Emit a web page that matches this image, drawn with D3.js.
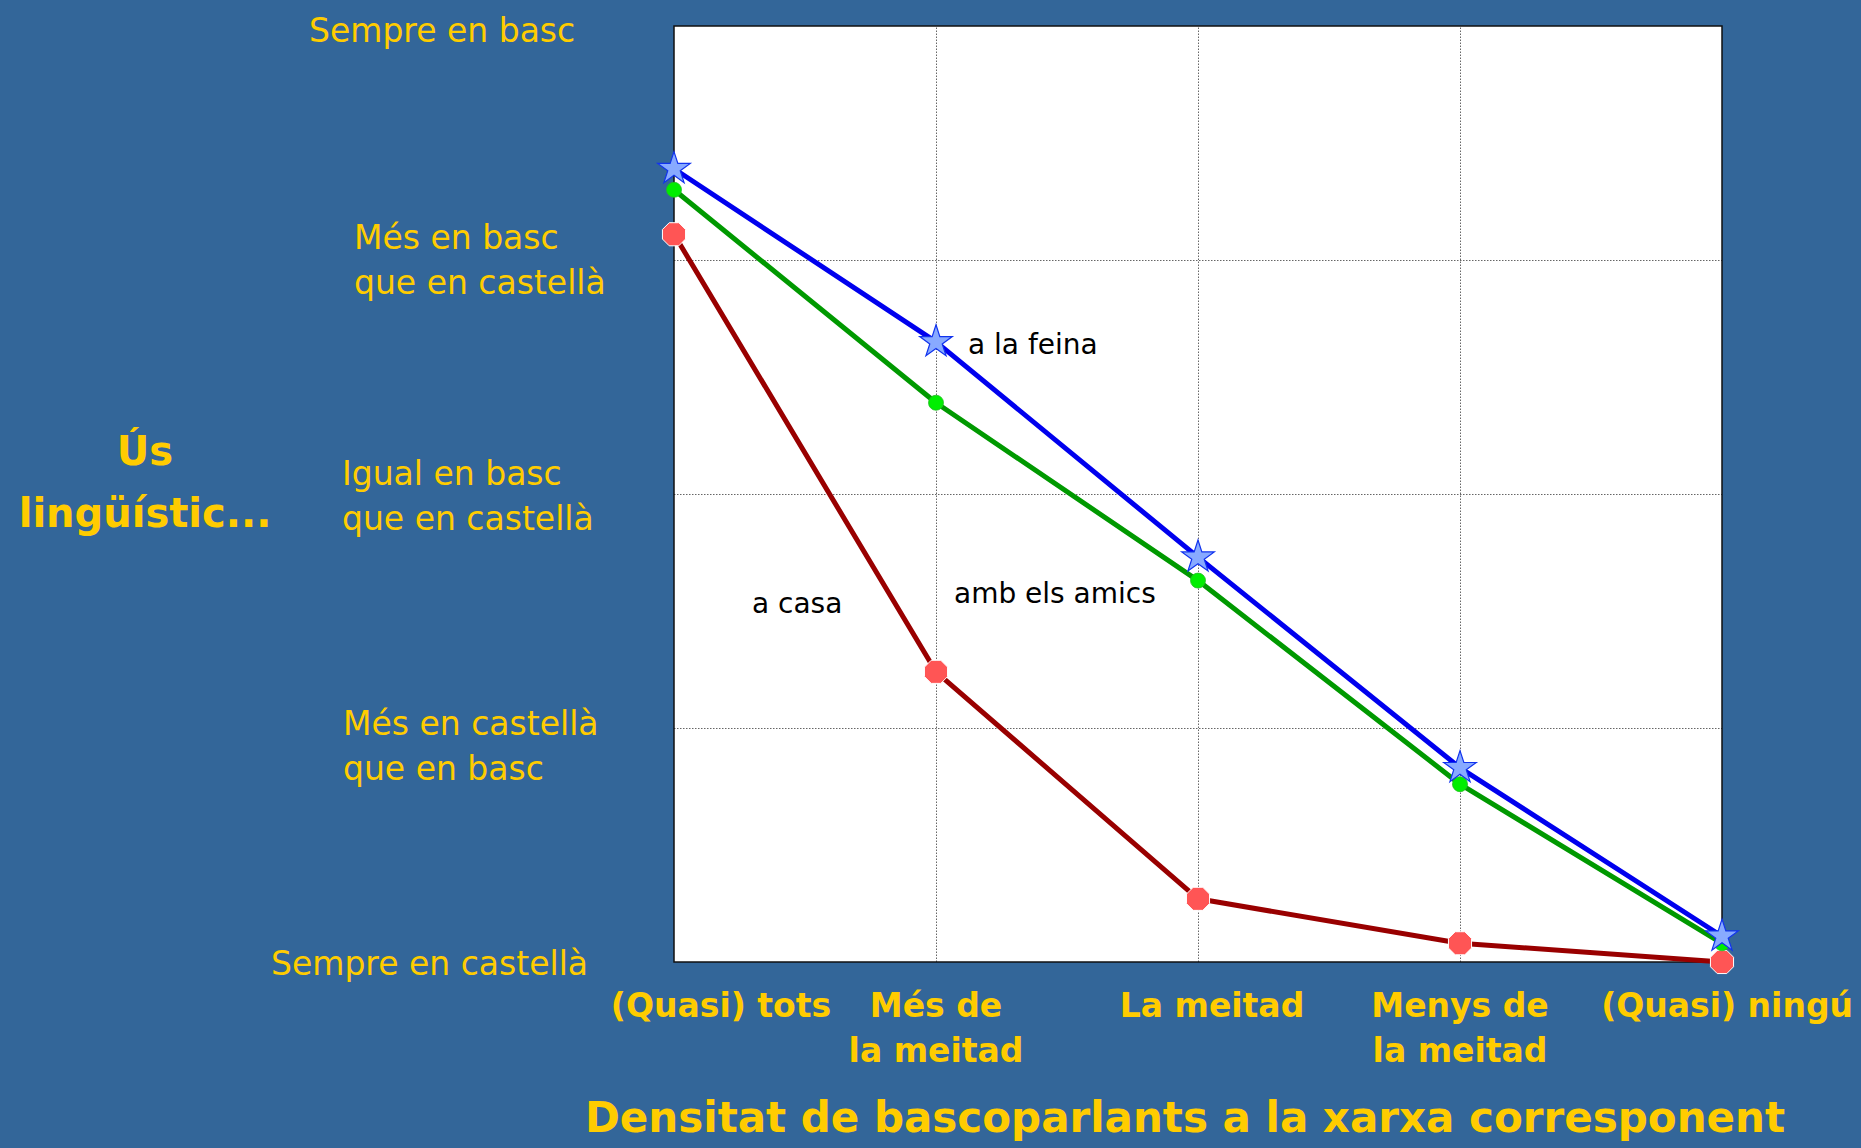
<!DOCTYPE html>
<html>
<head>
<meta charset="utf-8">
<script src="https://cdn.jsdelivr.net/npm/d3@7"></script>
<style>
  html, body { margin: 0; padding: 0; background: #336699; }
  svg { display: block; }
</style>
</head>
<body>
<svg id="chart" width="1861" height="1148"></svg>
<script>
// ---------- data ----------
const categories = ["(Quasi) tots", "Més de\nla meitad", "La meitad", "Menys de\nla meitad", "(Quasi) ningú"];
const yTickLabels = ["Sempre en castellà", "Més en castellà\nque en basc", "Igual en basc\nque en castellà", "Més en basc\nque en castellà", "Sempre en basc"];
const yTickValues = [0, 1, 2, 3, 4];
const seriesNames = ["a la feina", "amb els amics", "a casa"];
const feina = [3.39, 2.65, 1.73, 0.83, 0.11];
const amics = [3.30, 2.39, 1.63, 0.76, 0.08];
const casa  = [3.11, 1.24, 0.27, 0.08, 0.00];
const yTitle = ["Ús", "lingüístic..."];
const xTitle = "Densitat de bascoparlants a la xarxa corresponent";

// ---------- layout ----------
const W = 1861, H = 1148;
const plot = { left: 674, right: 1722, top: 26, bottom: 962 };
const FONT = "'Comic Sans MS', 'Comic Sans', 'DejaVu Sans', sans-serif";
const YELLOW = "#ffcc00";

const svg = d3.select("#chart");
svg.append("rect").attr("width", W).attr("height", H).attr("fill", "#336699");

const x = d3.scalePoint().domain(categories).range([plot.left, plot.right]).padding(0);
const y = d3.scaleLinear().domain([0, 4]).range([plot.bottom, plot.top]);

// plot background
svg.append("rect")
  .attr("x", plot.left).attr("y", plot.top)
  .attr("width", plot.right - plot.left).attr("height", plot.bottom - plot.top)
  .attr("fill", "#ffffff");

// gridlines via axes
const gx = svg.append("g")
  .attr("transform", `translate(0,${plot.bottom})`)
  .call(d3.axisBottom(x).tickSize(-(plot.bottom - plot.top)).tickFormat(""));
gx.select(".domain").remove();
gx.selectAll(".tick line")
  .attr("stroke", "#666").attr("stroke-width", 1).attr("stroke-dasharray", "1.5,1.5")
  .filter((d, i) => i === 0 || i === categories.length - 1).remove();

const gy = svg.append("g")
  .attr("transform", `translate(${plot.left},0)`)
  .call(d3.axisLeft(y).tickValues(yTickValues).tickSize(-(plot.right - plot.left)).tickFormat(""));
gy.select(".domain").remove();
gy.selectAll(".tick line")
  .attr("stroke", "#666").attr("stroke-width", 1).attr("stroke-dasharray", "1.5,1.5")
  .filter(d => d === 0 || d === 4).remove();

// border
svg.append("rect")
  .attr("x", plot.left).attr("y", plot.top)
  .attr("width", plot.right - plot.left).attr("height", plot.bottom - plot.top)
  .attr("fill", "none").attr("stroke", "#111").attr("stroke-width", 1.5);

// ---------- y tick labels (left-aligned blocks) ----------
const yLabelLeft = [271, 343, 342, 354, 309];
const yNudge = [1, 18, 2, 0, 4];
const lineGap = 45;
yTickValues.forEach((v, i) => {
  const lines = yTickLabels[i].split("\n");
  lines.forEach((ln, j) => {
    svg.append("text")
      .attr("font-family", FONT).attr("font-size", 33).attr("fill", YELLOW)
      .attr("text-anchor", "start").attr("dominant-baseline", "central")
      .attr("x", yLabelLeft[i])
      .attr("y", y(v) + yNudge[i] + (j - (lines.length - 1) / 2) * lineGap)
      .text(ln);
  });
});

// y title
yTitle.forEach((ln, j) => {
  svg.append("text")
    .attr("x", 145).attr("y", 451 + j * 62)
    .attr("font-family", FONT).attr("font-size", 40).attr("font-weight", "bold")
    .attr("fill", YELLOW).attr("text-anchor", "middle").attr("dominant-baseline", "central")
    .text(ln);
});

// ---------- x tick labels ----------
categories.forEach((c, i) => {
  const lines = c.split("\n");
  let cx = x(c);
  let anchor = "middle";
  if (i === 0) cx += 47;
  if (i === 2) cx += 14;
  if (i === categories.length - 1) { cx = W - 8; anchor = "end"; }
  lines.forEach((ln, j) => {
    svg.append("text")
      .attr("font-family", FONT).attr("font-size", 33).attr("font-weight", "bold")
      .attr("fill", YELLOW).attr("text-anchor", anchor).attr("dominant-baseline", "central")
      .attr("x", cx).attr("y", 1005 + j * 45).text(ln);
  });
});

// x title
svg.append("text")
  .attr("x", 1185).attr("y", 1117)
  .attr("font-family", FONT).attr("font-size", 42).attr("font-weight", "bold")
  .attr("fill", YELLOW).attr("text-anchor", "middle").attr("dominant-baseline", "central")
  .text(xTitle);

// ---------- lines ----------
const line = d3.line().x((d, i) => x(categories[i])).y(d => y(d));
const series = [
  { name: seriesNames[2], values: casa,  stroke: "#990000" },
  { name: seriesNames[1], values: amics, stroke: "#009900" },
  { name: seriesNames[0], values: feina, stroke: "#0000ee" }
];
series.forEach(s => {
  svg.append("path").datum(s.values)
    .attr("d", line).attr("fill", "none")
    .attr("stroke", s.stroke).attr("stroke-width", 5)
    .attr("stroke-linejoin", "round");
});

// ---------- markers ----------
const octagon = {
  draw(ctx, size) {
    const r = Math.sqrt(size / (2 * Math.SQRT2));
    for (let k = 0; k < 8; k++) {
      const a = Math.PI / 8 + k * Math.PI / 4;
      const px = r * Math.cos(a), py = r * Math.sin(a);
      if (k === 0) ctx.moveTo(px, py); else ctx.lineTo(px, py);
    }
    ctx.closePath();
  }
};
// a casa: red octagons
svg.append("g").selectAll("path").data(casa).join("path")
  .attr("transform", (d, i) => `translate(${x(categories[i])},${y(d)})`)
  .attr("d", d3.symbol().type(octagon).size(2 * Math.SQRT2 * 12.5 * 12.5))
  .attr("fill", "#ff5555").attr("stroke", "#ffffff").attr("stroke-width", 1);
// amb els amics: green dots
svg.append("g").selectAll("circle").data(amics).join("circle")
  .attr("cx", (d, i) => x(categories[i])).attr("cy", d => y(d))
  .attr("r", 7.5).attr("fill", "#00ee00").attr("stroke", "#22bb22").attr("stroke-width", 0.8);
// a la feina: blue stars
svg.append("g").selectAll("path").data(feina).join("path")
  .attr("transform", (d, i) => `translate(${x(categories[i])},${y(d)})`)
  .attr("d", d3.symbol().type(d3.symbolStar).size(330))
  .attr("fill", "#88aaff").attr("stroke", "#1133ee").attr("stroke-width", 1.2);

// ---------- series annotations ----------
const ann = [
  { text: seriesNames[0], x: 968, y: 344 },
  { text: seriesNames[1], x: 954, y: 593 },
  { text: seriesNames[2], x: 752, y: 603 }
];
ann.forEach(a => {
  svg.append("text")
    .attr("x", a.x).attr("y", a.y)
    .attr("font-family", FONT).attr("font-size", 28).attr("fill", "#000")
    .attr("dominant-baseline", "central")
    .text(a.text);
});
</script>
</body>
</html>
